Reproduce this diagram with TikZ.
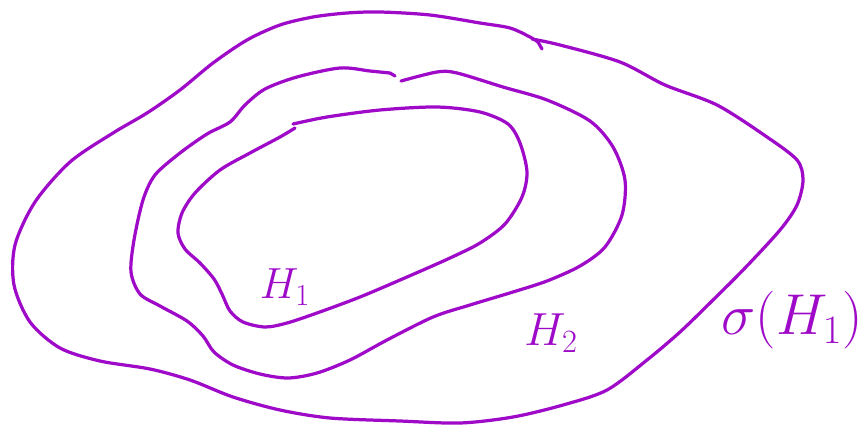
\documentclass[tikz,border=0pt]{standalone}
\usepackage{fix-cm}
\usepackage{amsmath, amssymb}
\usepackage{xcolor}
\definecolor{lilac}{HTML}{9E0AC8}

\begin{document}
\begin{tikzpicture}[x=0.025cm, y=-0.025cm,
      curve/.style={draw=lilac, line width=2.3pt, line cap=round, line join=round},
      lbl/.style={text=lilac, inner sep=0pt}]
    \useasboundingbox (0,0) rectangle (868,429);
    % outer set sigma(H_1)
    \draw[curve] plot[smooth, tension=0.5] coordinates {(532,39) (560,45) (620,62)
      (665,85) (717,105) (767,137) (797,160) (803,180) (797,205) (780,230)
      (745,268) (713,300) (680,332) (647,360) (607,390) (563,405) (513,417) (460,423)
      (400,421) (330,418) (280,410) (233,397) (190,380) (150,369) (100,361)
      (60,348) (30,322) (14,285) (15,245) (35,202) (70,162) (113,133) (147,113)
      (180,90) (213,63) (247,40) (280,25) (313,17) (347,13) (380,12) (430,15)
      (480,23) (510,28) (530,37) (538,42)};
    \draw[curve] (538,42) -- (542,49);
    % middle set H_2
    \draw[curve] plot[smooth, tension=0.5] coordinates {(401,81) (437,72) (457,73) (503,87)
      (547,100) (590,121) (613,147) (625,180) (622,215) (605,247)
      (580,266) (547,281) (513,292) (470,305) (433,317) (387,340) (350,360) (317,373)
      (288,378) (260,374) (233,365) (214,352) (203,336) (187,321) (160,306) (140,294)
      (131,272) (134,240) (143,200) (155,175) (180,153) (207,134) (230,122) (245,105)
      (265,89) (297,77) (340,68) (370,71) (390,73)};
    \draw[curve] (390,73) -- (395,76);
    % inner set H_1
    \draw[curve] plot[smooth, tension=0.5] coordinates {(293,124) (327,117) (380,110)
      (437,107) (480,112) (508,124) (520,143) (527,172) (522,197)
      (505,224) (480,243) (450,258) (407,277) (360,297) (317,313) (287,323)
      (265,327) (243,322) (230,311) (222,294) (214,279) (200,263) (185,249) (178,233)
      (182,213) (195,193) (220,170) (250,153) (280,137) (295,128)};
    \node[lbl, font=\fontsize{31}{33}\selectfont] (h1) at (285,287) {$H_1$};
    \node[lbl, font=\fontsize{33}{35}\selectfont] (h2) at (551,333) {$H_2$};
    \node[lbl, font=\fontsize{41}{43}\selectfont] (sigmah1) at (792,320) {$\sigma(H_1)$};
  \end{tikzpicture}
\end{document}
